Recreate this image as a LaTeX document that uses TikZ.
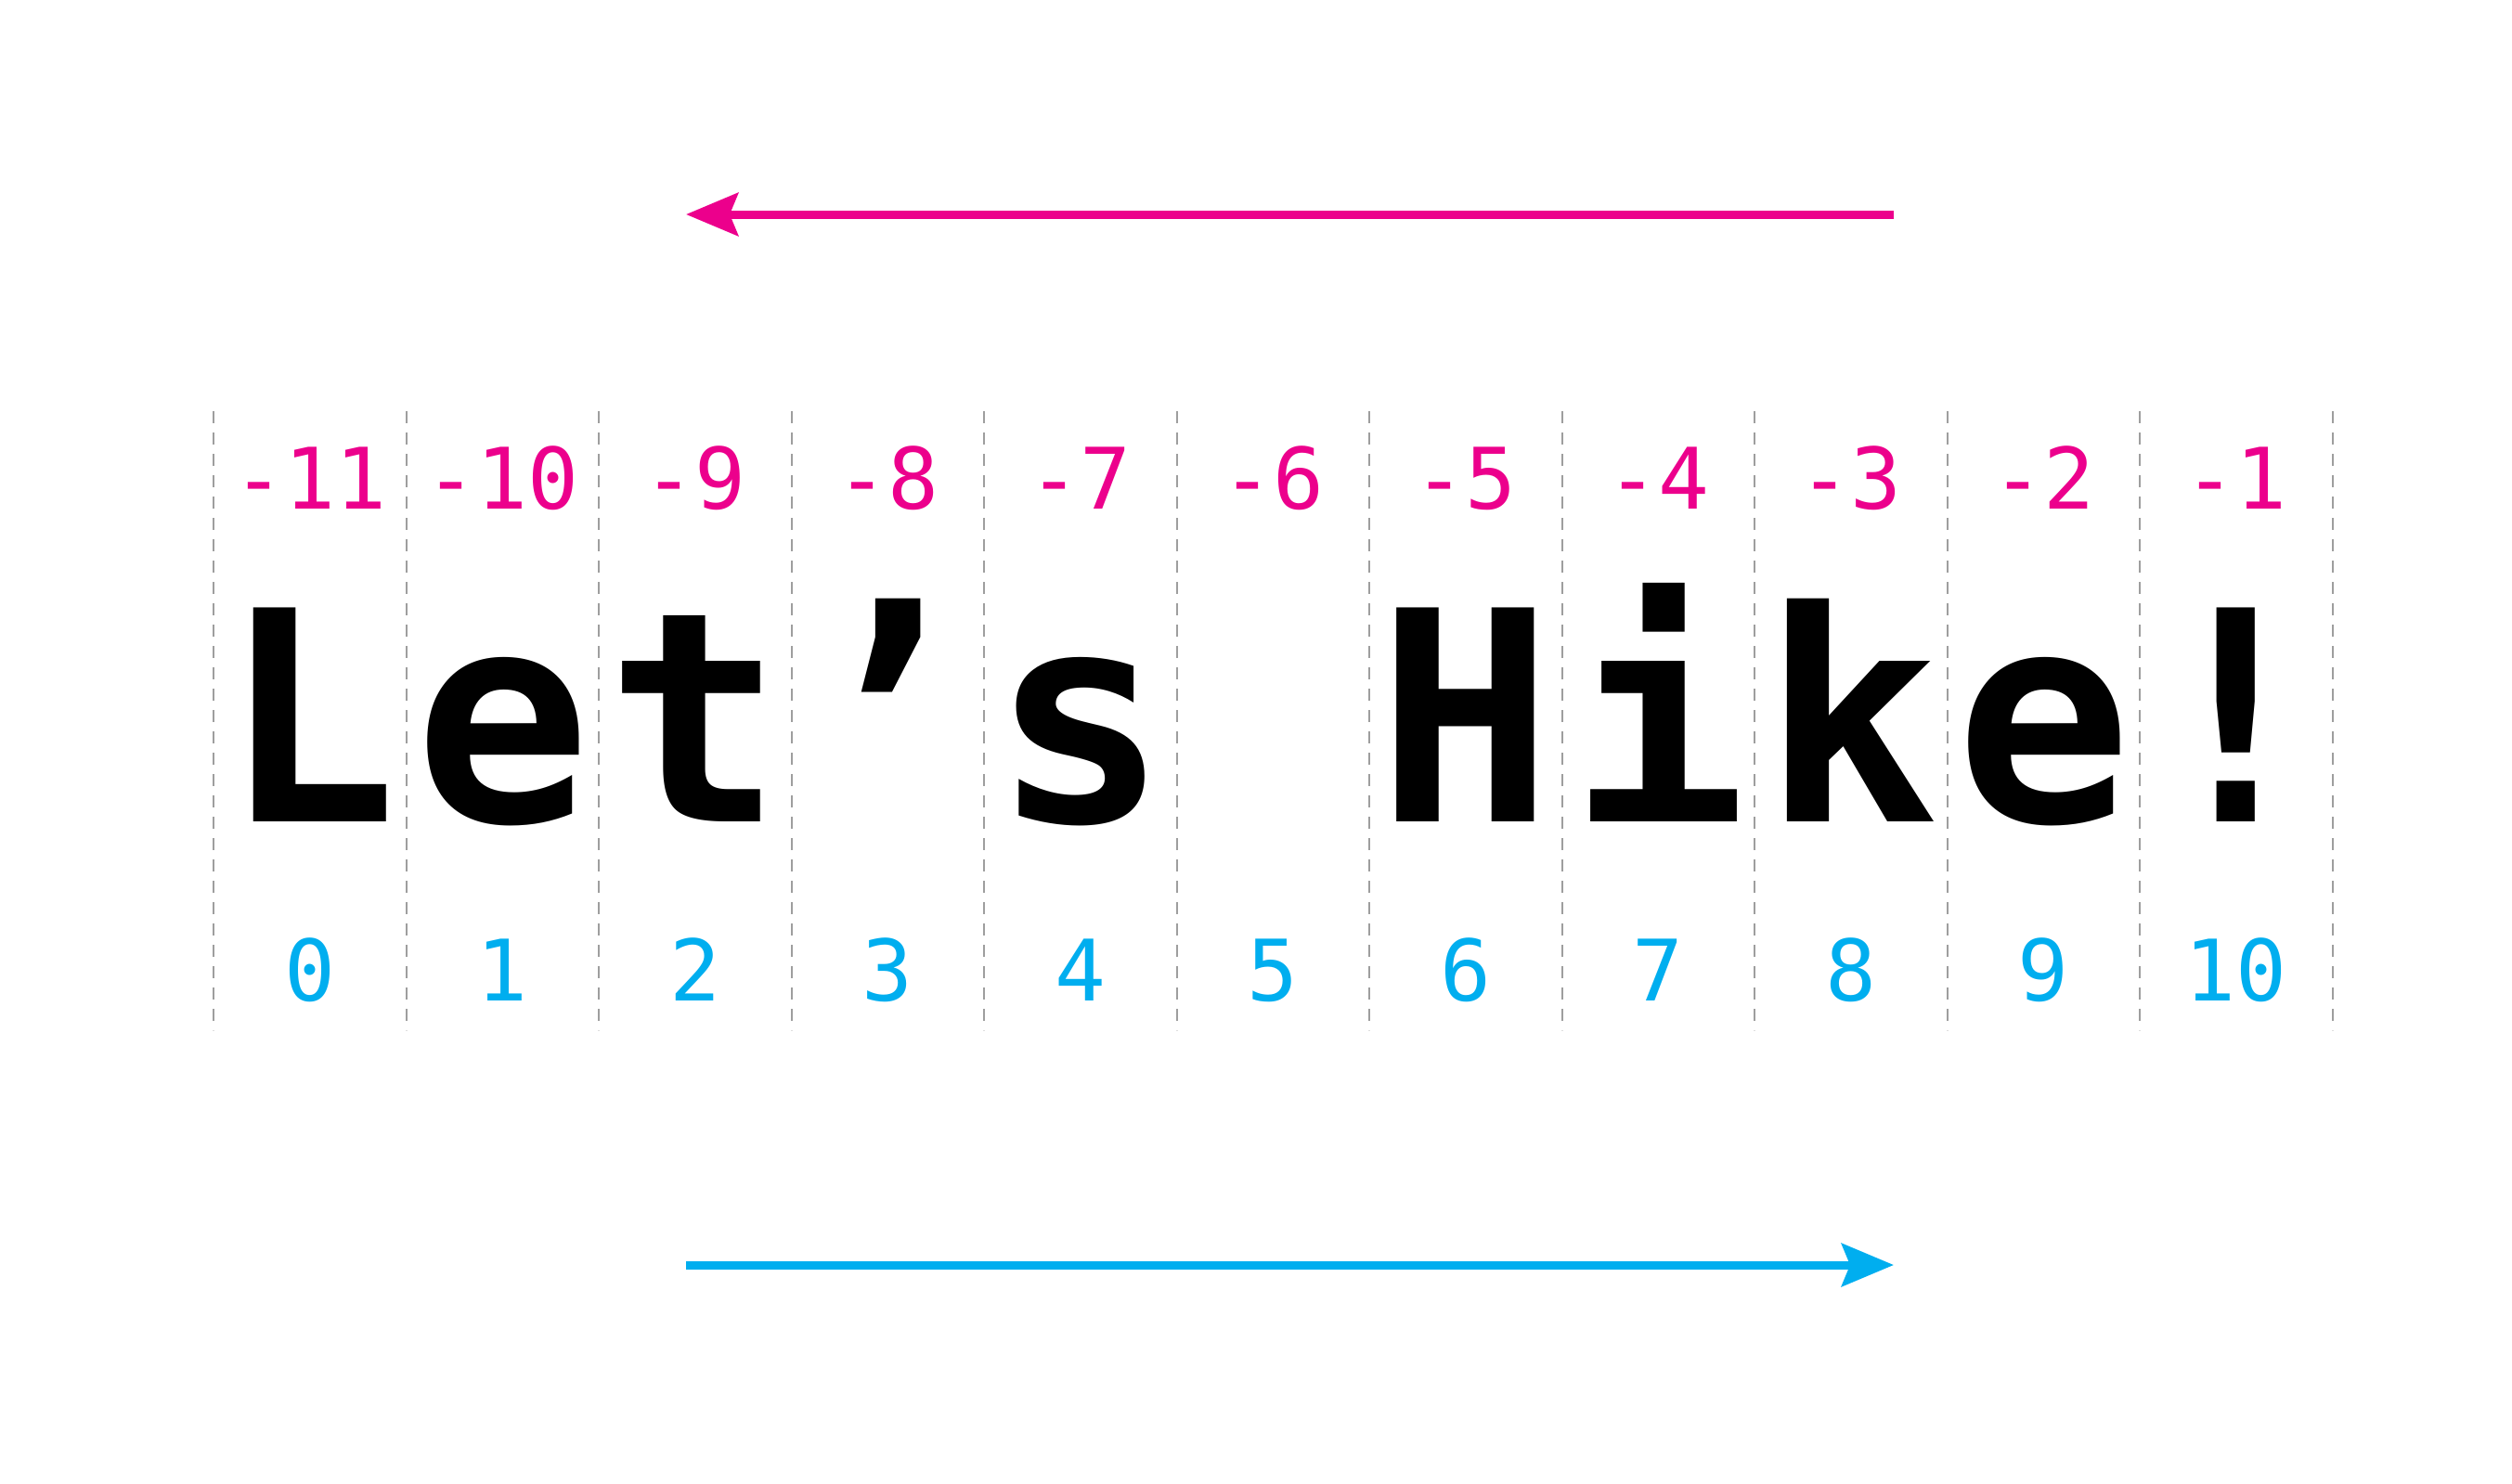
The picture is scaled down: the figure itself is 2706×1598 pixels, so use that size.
\documentclass[tikz,border=0pt]{standalone}
\usepackage{fontspec}
\usetikzlibrary{arrows.meta}
\newfontfamily\hikefont{DejaVu Sans Mono}
\definecolor{hikepink}{HTML}{EC008C}
\definecolor{hikeblue}{HTML}{00AEEF}
\definecolor{gridgray}{HTML}{9E9E9E}

\begin{document}
\begin{tikzpicture}[x=0.1mm, y=-0.1mm,
    sep/.style={gridgray, line width=0.2mm, dash pattern=on 1.3mm off 1mm},
    letter/.style={anchor=base, inner sep=0, font=\hikefont\bfseries\fontsize{90}{90}\selectfont},
    negidx/.style={anchor=base, inner sep=0, text=hikepink, font=\hikefont\fontsize{26}{26}\selectfont},
    posidx/.style={anchor=base, inner sep=0, text=hikeblue, font=\hikefont\fontsize{26}{26}\selectfont},
    dirarrow/.style={line width=0.9mm, -{Stealth[length=5.6mm, width=4.6mm, inset=0.9mm]}}]
    \useasboundingbox (0,0) rectangle (2706,1598);

    % Separators between the characters
    \foreach \i in {0,...,11} {
        \coordinate (top\i) at (230+207.5*\i, 443);
        \coordinate (bot\i) at (230+207.5*\i, 1110);
        \draw[sep] (top\i) -- (bot\i);
    }

    % Characters with their indices
    \foreach \c [count=\n from 0, evaluate=\n as \m using int(\n-11)] in {L,e,t,’,s,{},H,i,k,e,!} {
        \node[letter] (char\n) at (333.75+207.5*\n, 885) {\c};
        \node[negidx] (neg\n) at (333.75+207.5*\n, 548) {\m};
        \node[posidx] (pos\n) at (333.75+207.5*\n, 1078) {\n};
    }

    % Reading directions
    \coordinate (backstart) at (2040, 231);
    \coordinate (backend) at (739, 231);
    \coordinate (fwdstart) at (739, 1363);
    \coordinate (fwdend) at (2040, 1363);
    \draw[dirarrow, hikepink] (backstart) -- (backend);
    \draw[dirarrow, hikeblue] (fwdstart) -- (fwdend);
\end{tikzpicture}
\end{document}
